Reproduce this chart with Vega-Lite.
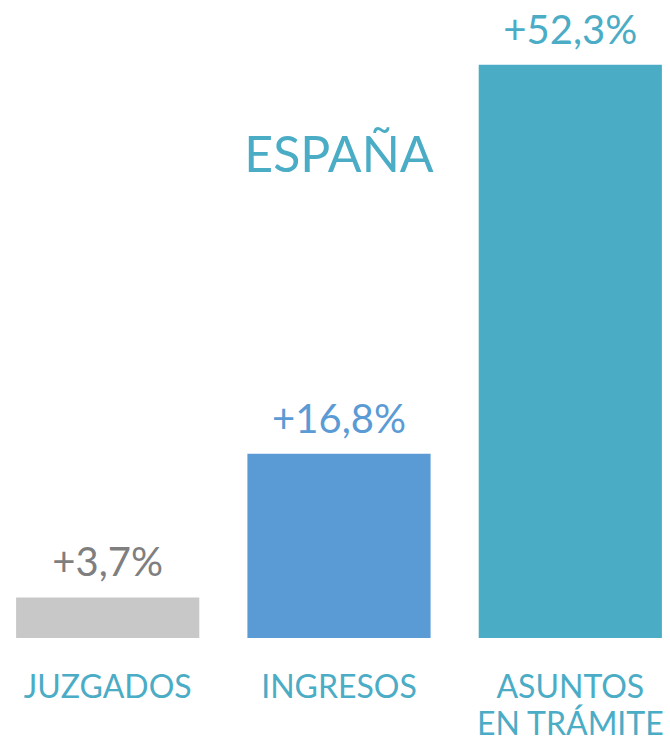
{
  "$schema": "https://vega.github.io/schema/vega-lite/v6.json",
  "width": 670,
  "height": 638,
  "padding": {"top": 0, "left": 0, "right": 0, "bottom": 99},
  "autosize": {"type": "none"},
  "background": "white",
  "config": {"view": {"stroke": null}, "font": "Lato"},
  "title": {
    "text": "ESPAÑA",
    "orient": "top",
    "anchor": "middle",
    "frame": "group",
    "offset": -222,
    "baseline": "alphabetic",
    "dx": 4,
    "fontSize": 50,
    "fontWeight": "normal",
    "color": "#4bacc6",
    "font": "Lato"
  },
  "data": {
    "values": [
      {"cat": "JUZGADOS", "value": 3.7, "label": "+3,7%"},
      {"cat": "INGRESOS", "value": 16.8, "label": "+16,8%"},
      {"cat": "ASUNTOS EN TRÁMITE", "value": 52.3, "label": "+52,3%"}
    ]
  },
  "encoding": {
    "x": {
      "field": "cat",
      "type": "nominal",
      "sort": null,
      "scale": {"range": [8, 670], "paddingInner": 0.208, "paddingOuter": 0.035},
      "axis": {
        "title": null,
        "domain": false,
        "ticks": false,
        "labelAngle": 0,
        "labelFontSize": 32,
        "labelFont": "Lato",
        "labelColor": "#4bacc6",
        "labelBaseline": "alphabetic",
        "labelPadding": 59,
        "labelLineHeight": 37,
        "labelLimit": 0,
        "labelExpr": "datum.value == 'ASUNTOS EN TRÁMITE' ? ['ASUNTOS', 'EN TRÁMITE'] : datum.value"
      }
    },
    "y": {
      "field": "value",
      "type": "quantitative",
      "scale": {"domain": [0, 58.2], "nice": false},
      "axis": null
    }
  },
  "layer": [
    {
      "mark": {"type": "bar"},
      "encoding": {
        "color": {
          "field": "cat",
          "type": "nominal",
          "scale": {"domain": ["JUZGADOS", "INGRESOS", "ASUNTOS EN TRÁMITE"], "range": ["#c8c8c8", "#5b9bd5", "#4bacc6"]},
          "legend": null
        }
      }
    },
    {
      "mark": {"type": "text", "baseline": "alphabetic", "dy": -21, "fontSize": 40, "font": "Lato"},
      "encoding": {
        "text": {"field": "label"},
        "color": {
          "field": "cat",
          "type": "nominal",
          "scale": {"domain": ["JUZGADOS", "INGRESOS", "ASUNTOS EN TRÁMITE"], "range": ["#7f7f7f", "#5b9bd5", "#4bacc6"]},
          "legend": null
        }
      }
    }
  ],
  "resolve": {"scale": {"color": "independent"}}
}
